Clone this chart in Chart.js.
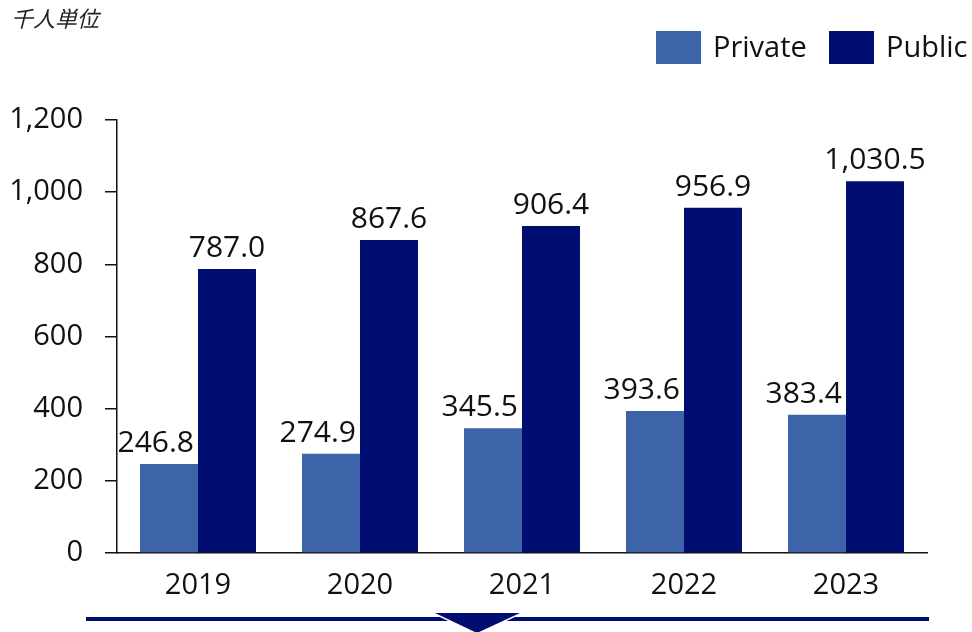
<!DOCTYPE html>
<html>
<head>
<meta charset="utf-8">
<script src="https://cdn.jsdelivr.net/npm/chart.js@4/dist/chart.umd.min.js"></script>
<style>
  html, body { margin: 0; padding: 0; background: #fff; }
  #wrap { position: relative; width: 972px; height: 632px; }
  canvas { display: block; }
</style>
</head>
<body>
<div id="wrap"><canvas id="c" width="972" height="632"></canvas></div>
<script>
const categories = ['2019', '2020', '2021', '2022', '2023'];
const privateValues = [246.8, 274.9, 345.5, 393.6, 383.4];
const publicValues = [787.0, 867.6, 906.4, 956.9, 1030.5];
const seriesLabels = ['Private', 'Public'];
const seriesColors = ['#3D63A9', '#000E72'];
const yTicks = [0, 200, 400, 600, 800, 1000, 1200];
const unitLabel = '千人単位';

const FONT = "'Open Sans', 'Noto Sans', sans-serif";

const fmt = v => v.toLocaleString('en-US', { minimumFractionDigits: 1, maximumFractionDigits: 1 });

const decor = {
  id: 'decor',
  afterDatasetsDraw(chart) {
    const ctx = chart.ctx;
    ctx.save();
    // data labels
    ctx.font = '30px ' + FONT;
    ctx.fillStyle = '#111';
    ctx.textBaseline = 'alphabetic';
    chart.data.datasets.forEach((ds, i) => {
      const meta = chart.getDatasetMeta(i);
      meta.data.forEach((bar, j) => {
        if (i === 0) {
          ctx.textAlign = 'right';
          ctx.fillText(fmt(ds.data[j]), bar.x + bar.width / 2 - 4, bar.y - 12);
        } else {
          ctx.textAlign = 'center';
          ctx.fillText(fmt(ds.data[j]), bar.x, bar.y - 12);
        }
      });
    });
    // unit label
    ctx.font = 'italic 22px "Noto Sans CJK JP", sans-serif';
    ctx.textAlign = 'left';
    ctx.textBaseline = 'alphabetic';
    ctx.fillStyle = '#222';
    ctx.fillText(unitLabel, 11, 27);
    // legend
    ctx.font = '29px ' + FONT;
    const legendX = [656, 829];
    chart.data.datasets.forEach((ds, i) => {
      ctx.fillStyle = ds.backgroundColor;
      ctx.fillRect(legendX[i], 31, 45, 33);
      ctx.fillStyle = '#111';
      ctx.textBaseline = 'middle';
      ctx.fillText(ds.label, legendX[i] + 57, 49);
    });
    // bottom line with arrow
    ctx.fillStyle = '#000E72';
    ctx.fillRect(86, 617, 843, 4);
    ctx.beginPath();
    ctx.moveTo(435, 613);
    ctx.lineTo(520, 613);
    ctx.lineTo(477, 633);
    ctx.closePath();
    ctx.lineWidth = 3;
    ctx.strokeStyle = '#fff';
    ctx.stroke();
    ctx.fill();
    ctx.restore();
  }
};

new Chart(document.getElementById('c'), {
  type: 'bar',
  data: {
    labels: categories,
    datasets: [
      { label: seriesLabels[0], data: privateValues, backgroundColor: seriesColors[0] },
      { label: seriesLabels[1], data: publicValues, backgroundColor: seriesColors[1] }
    ]
  },
  options: {
    responsive: false,
    animation: false,
    devicePixelRatio: 1,
    layout: { padding: { top: 120, right: 45, left: 0, bottom: 0 } },
    plugins: { legend: { display: false }, tooltip: { enabled: false }, title: { display: false } },
    datasets: { bar: { categoryPercentage: 0.716, barPercentage: 1.0, borderWidth: 0 } },
    scales: {
      x: {
        grid: { display: false, drawTicks: false },
        border: { display: true, color: '#111', width: 1.5 },
        ticks: { color: '#111', font: { family: FONT, size: 29 }, padding: 15 },
        afterFit: s => { s.height = 79; }
      },
      y: {
        min: 0, max: 1200,
        afterBuildTicks: s => { s.ticks = yTicks.map(v => ({ value: v })); },
        grid: { drawOnChartArea: false, drawTicks: true, tickLength: 12, color: '#111', lineWidth: 1.5 },
        border: { display: true, color: '#111', width: 1.5 },
        ticks: {
          color: '#111', font: { family: FONT, size: 29 }, padding: 22,
          callback: v => v.toLocaleString('en-US')
        },
        afterFit: s => { s.width = 117; }
      }
    }
  },
  plugins: [decor]
});
</script>
</body>
</html>
